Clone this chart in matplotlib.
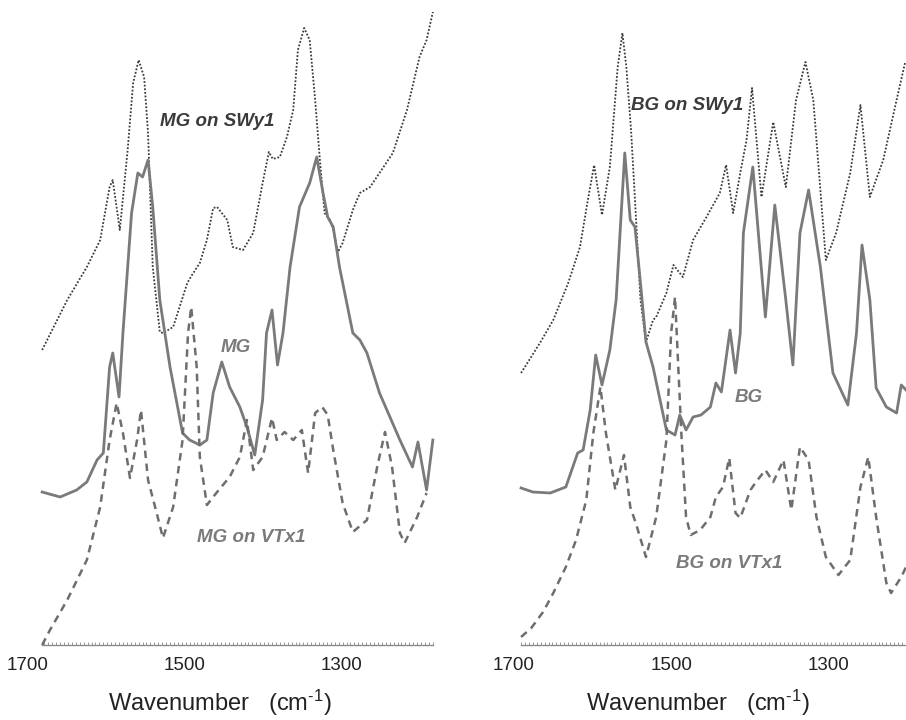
import matplotlib
matplotlib.use('Agg')
import matplotlib.pyplot as plt
from matplotlib.ticker import FixedLocator
import numpy as np

# 数据: 波数 (cm-1) 与相对强度 (a.u.)
# 左图 MG
mg_swy1_x = [1682, 1650, 1625, 1608, 1596, 1592, 1583, 1573, 1566, 1559, 1552, 1547, 1541, 1532, 1528,
             1515, 1497, 1491, 1481, 1472, 1464, 1459, 1446, 1439, 1426, 1413, 1401, 1393, 1388, 1379,
             1370, 1362, 1356, 1348, 1341, 1334, 1328, 1322, 1315, 1311, 1305, 1299, 1286, 1277, 1264,
             1252, 1235, 1217, 1201, 1192, 1184]
mg_swy1_y = [295, 345, 378, 405, 458, 465, 415, 495, 562, 585, 568, 512, 378, 313, 312,
             318, 362, 370, 382, 405, 437, 438, 425, 398, 395, 412, 462, 493, 486, 488,
             508, 535, 595, 617, 605, 545, 485, 432, 425, 415, 393, 402, 435, 452, 458,
             472, 492, 535, 588, 605, 633]

mg_x = [1682, 1659, 1638, 1625, 1612, 1604, 1596, 1592, 1584, 1579, 1568, 1560, 1554, 1547, 1541,
        1532, 1519, 1503, 1494, 1481, 1472, 1464, 1453, 1443, 1430, 1421, 1411, 1401, 1396, 1389,
        1382, 1375, 1366, 1354, 1341, 1332, 1324, 1318, 1311, 1303, 1286, 1277, 1268, 1252, 1226,
        1210, 1203, 1192, 1184]
mg_y = [153, 148, 155, 163, 185, 192, 278, 292, 248, 312, 432, 472, 468, 485, 438,
        345, 278, 212, 205, 200, 205, 252, 283, 258, 238, 218, 190, 245, 312, 335,
        280, 312, 378, 438, 462, 488, 452, 428, 418, 378, 312, 305, 292, 252, 205,
        178, 203, 155, 205]

mg_vtx1_x = [1682, 1672, 1650, 1625, 1608, 1596, 1587, 1579, 1570, 1561, 1556, 1547, 1536, 1528, 1515,
             1503, 1496, 1492, 1485, 1481, 1472, 1459, 1443, 1430, 1421, 1413, 1401, 1389, 1383, 1373,
             1362, 1351, 1343, 1334, 1325, 1318, 1311, 1299, 1286, 1268, 1255, 1245, 1236, 1226, 1220,
             1204, 1192]
mg_vtx1_y = [0, 15, 45, 85, 138, 205, 242, 212, 167, 205, 235, 165, 132, 107, 138,
             205, 312, 338, 278, 188, 140, 153, 168, 188, 225, 175, 188, 227, 205, 213,
             205, 215, 172, 232, 238, 230, 195, 142, 113, 125, 178, 213, 178, 112, 102,
             128, 152]

# 右图 BG
bg_swy1_x = [1691, 1667, 1650, 1631, 1616, 1606, 1598, 1588, 1578, 1568, 1562, 1557, 1551, 1546, 1539,
             1532, 1523, 1519, 1506, 1497, 1485, 1472, 1455, 1438, 1430, 1421, 1412, 1404, 1397, 1385,
             1370, 1354, 1341, 1329, 1319, 1303, 1290, 1272, 1259, 1247, 1230, 1213, 1202]
bg_swy1_y = [272, 302, 325, 362, 398, 445, 480, 430, 478, 578, 612, 578, 515, 445, 345,
             303, 325, 328, 352, 380, 368, 405, 428, 452, 480, 432, 472, 505, 557, 448,
             523, 458, 545, 583, 545, 385, 412, 472, 540, 448, 485, 545, 583]

bg_x = [1691, 1676, 1654, 1634, 1619, 1612, 1603, 1596, 1588, 1578, 1570, 1565, 1559, 1552, 1546,
        1539, 1532, 1523, 1506, 1495, 1489, 1481, 1472, 1462, 1450, 1443, 1436, 1425, 1418, 1412,
        1408, 1396, 1380, 1368, 1354, 1345, 1336, 1325, 1310, 1294, 1275, 1264, 1257, 1247, 1239,
        1226, 1213, 1207, 1201]
bg_y = [157, 153, 152, 158, 192, 195, 235, 290, 260, 295, 345, 412, 492, 425, 418,
        362, 303, 278, 215, 210, 230, 215, 228, 230, 238, 262, 253, 315, 272, 312,
        412, 478, 328, 440, 345, 280, 412, 455, 378, 272, 240, 312, 400, 345, 257,
        238, 232, 260, 255]

bg_vtx1_x = [1691, 1678, 1663, 1650, 1634, 1621, 1608, 1599, 1590, 1583, 1571, 1560, 1552, 1545, 1532,
             1519, 1506, 1500, 1495, 1487, 1481, 1475, 1463, 1450, 1443, 1434, 1426, 1418, 1412, 1399,
             1392, 1380, 1370, 1357, 1347, 1336, 1325, 1315, 1303, 1287, 1272, 1259, 1249, 1239, 1226,
             1220, 1207, 1201]
bg_vtx1_y = [8, 17, 33, 52, 78, 105, 145, 212, 258, 212, 155, 190, 138, 122, 88,
             128, 205, 312, 348, 212, 128, 110, 115, 128, 148, 158, 187, 132, 127, 155,
             163, 175, 163, 185, 135, 198, 185, 128, 88, 70, 85, 158, 188, 128, 62,
             52, 68, 78]

ticks_major = [1700, 1500, 1300]

# 字体
plt.rcParams['font.family'] = ['Liberation Sans', 'DejaVu Sans']
plt.rcParams['mathtext.fontset'] = 'custom'
plt.rcParams['mathtext.rm'] = 'Liberation Sans'
plt.rcParams['mathtext.it'] = 'Liberation Sans:italic'

fig = plt.figure(figsize=(9.06, 7.2), dpi=100)
ax1 = fig.add_axes([28 / 906, 75 / 720, 408 / 906, 645 / 720])
ax2 = fig.add_axes([514 / 906, 75 / 720, 392 / 906, 645 / 720])

dark = '#3a3a3a'
mid = '#7a7a7a'
dash_c = '#6e6e6e'

panels = [
    (ax1, mg_swy1_x, mg_swy1_y, mg_x, mg_y, mg_vtx1_x, mg_vtx1_y, (1700, 1180), (1682, 1184),
     [('MG on SWy1', 1459, 523, dark), ('MG', 1435, 298, mid), ('MG on VTx1', 1415, 107, mid)]),
    (ax2, bg_swy1_x, bg_swy1_y, bg_x, bg_y, bg_vtx1_x, bg_vtx1_y, (1700, 1201), (1691, 1201),
     [('BG on SWy1', 1480, 540, dark), ('BG', 1401, 248, mid), ('BG on VTx1', 1426, 81, mid)]),
]

for ax, sx, sy, px, py, vx, vy, lim, bounds, labels in panels:
    # 三条光谱
    ax.plot(sx, sy, color=dark, lw=1.3, linestyle=(0, (1, 1)))
    ax.plot(px, py, color=mid, lw=2.0, linestyle='-')
    ax.plot(vx, vy, color=dash_c, lw=1.8, linestyle=(0, (3, 2.2)))
    for txt, x, y, c in labels:
        ax.text(x, y, txt, color=c, fontsize=13.5, fontweight='bold', fontstyle='italic',
                ha='center', va='center')
    ax.set_xlim(lim)
    ax.set_ylim(0, 645)
    # 坐标轴
    for s in ['top', 'left', 'right']:
        ax.spines[s].set_visible(False)
    ax.spines['bottom'].set_color('#8a8a8a')
    ax.spines['bottom'].set_linewidth(1.0)
    ax.spines['bottom'].set_bounds(bounds[1], bounds[0])
    ax.set_yticks([])
    ax.xaxis.set_major_locator(FixedLocator(ticks_major))
    ax.xaxis.set_minor_locator(FixedLocator(np.arange(bounds[1], bounds[0] + 1, 5)))
    ax.tick_params(axis='x', which='major', length=0, pad=9, labelsize=13.5, labelcolor='#222222')
    ax.tick_params(axis='x', which='minor', length=2.5, width=0.6, direction='in', color='#8a8a8a')
    ax.set_xlabel(r'Wavenumber   (cm$^{\text{-1}}$)', fontsize=17, color='#222222')
    ax.xaxis.set_label_coords(0.47, -0.066)
    ax.patch.set_alpha(0)

plt.savefig('out.png', dpi=100)
